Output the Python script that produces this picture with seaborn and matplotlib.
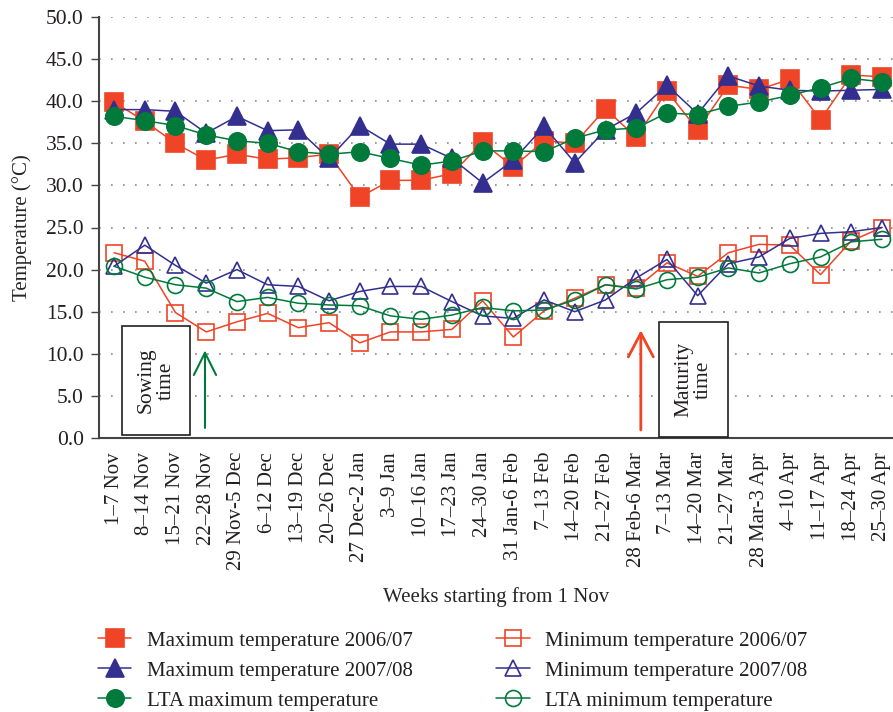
import matplotlib
matplotlib.use("Agg")
import matplotlib.pyplot as plt
from matplotlib.patches import Rectangle
import seaborn as sns
import numpy as np

weeks = ["1\u20137 Nov", "8\u201314 Nov", "15\u201321 Nov", "22\u201328 Nov", "29 Nov-5 Dec",
         "6\u201312 Dec", "13\u201319 Dec", "20\u201326 Dec", "27 Dec-2 Jan", "3\u20139 Jan",
         "10\u201316 Jan", "17\u201323 Jan", "24\u201330 Jan", "31 Jan-6 Feb", "7\u201313 Feb",
         "14\u201320 Feb", "21\u201327 Feb", "28 Feb-6 Mar", "7\u201313 Mar", "14\u201320 Mar",
         "21\u201327 Mar", "28 Mar-3 Apr", "4\u201310 Apr", "11\u201317 Apr", "18\u201324 Apr",
         "25\u201330 Apr"]

max_0607 = [39.9, 37.6, 35.0, 33.0, 33.7, 33.1, 33.3, 33.7, 28.6, 30.6, 30.6, 31.4, 35.1,
            32.2, 35.3, 35.0, 39.1, 35.7, 41.2, 36.6, 41.9, 41.4, 42.6, 37.8, 43.1, 42.9]
max_0708 = [39.0, 39.0, 38.8, 36.2, 38.2, 36.5, 36.6, 33.2, 37.1, 34.9, 34.9, 33.2, 30.3,
            33.0, 37.0, 32.7, 36.6, 38.6, 41.9, 38.5, 43.0, 41.8, 41.3, 41.2, 41.3, 41.4]
lta_max = [38.2, 37.7, 37.1, 36.0, 35.3, 35.0, 34.0, 33.7, 34.0, 33.2, 32.4, 32.9, 34.1,
           34.1, 34.0, 35.6, 36.6, 36.8, 38.6, 38.4, 39.4, 39.9, 40.7, 41.6, 42.7, 42.3]
min_0607 = [22.0, 21.0, 14.9, 12.6, 13.8, 14.8, 13.1, 13.7, 11.3, 12.6, 12.6, 12.9, 16.3,
            12.0, 15.1, 16.6, 18.2, 17.8, 20.8, 19.2, 22.0, 23.0, 22.9, 19.4, 23.4, 25.0]
min_0708 = [20.4, 22.9, 20.5, 18.4, 20.0, 18.2, 18.0, 16.3, 17.4, 18.0, 18.0, 16.2, 14.5,
            14.2, 16.4, 15.0, 16.4, 19.0, 21.2, 16.9, 20.7, 21.5, 23.7, 24.3, 24.5, 25.0]
lta_min = [20.4, 19.1, 18.2, 17.8, 16.2, 16.7, 16.0, 15.8, 15.7, 14.5, 14.1, 14.6, 15.5,
           15.1, 15.2, 16.4, 18.2, 17.7, 18.8, 19.1, 20.2, 19.6, 20.7, 21.5, 23.3, 23.6]

series_labels = ["Maximum temperature 2006/07", "Maximum temperature 2007/08",
                 "LTA maximum temperature", "Minimum temperature 2006/07",
                 "Minimum temperature 2007/08", "LTA minimum temperature"]

RED = "#EF4426"
BLUE = "#332F8F"
GREEN = "#007A3B"

sns.set_theme(style="white")
plt.rcParams["font.family"] = ["Liberation Serif", "DejaVu Serif"]
plt.rcParams["text.color"] = "#231F20"

fig = plt.figure(figsize=(8.93, 7.12), dpi=100)
ax = fig.add_axes([99 / 893, 1 - 438 / 712, 794 / 893, 421 / 712])

x = np.arange(len(weeks))

styles = [
    (max_0607, RED, "s", RED, 12.5),
    (max_0708, BLUE, "^", BLUE, 12.5),
    (lta_max, GREEN, "o", GREEN, 12.5),
    (min_0607, RED, "s", "none", 11),
    (min_0708, BLUE, "^", "none", 12),
    (lta_min, GREEN, "o", "none", 11.5),
]
handles = []
for (vals, col, mk, fc, ms), lab in zip(styles, series_labels):
    sns.lineplot(x=x, y=vals, ax=ax, color=col, marker=mk, markersize=ms,
                 markerfacecolor=fc, markeredgecolor=col, markeredgewidth=1.2,
                 linewidth=1.1, label=lab, legend=False, sort=False)
    handles.append(ax.lines[-1])

ax.set_xlim(-0.49, 25.36)
ax.set_ylim(0, 50)
ax.set_yticks(np.arange(0, 50.1, 5))
ax.set_yticklabels([f"{v:.1f}" for v in np.arange(0, 50.1, 5)], fontsize=15.5)
ax.set_xticks(x)
ax.set_xticklabels(weeks, rotation=90, fontsize=15)
ax.tick_params(axis="x", length=0, pad=10, colors="#231F20")
ax.tick_params(axis="y", length=6, width=1.0, pad=5, direction="out", left=True, colors="#231F20")
ax.tick_params(axis="y", color="#444444")

for yv in np.arange(5, 50.1, 5):
    ax.axhline(yv, color="#8a8a8a", linewidth=1.2, linestyle=(0, (1, 6.2)), zorder=0)

for s in ["top", "right"]:
    ax.spines[s].set_visible(False)
for s in ["left", "bottom"]:
    ax.spines[s].set_color("#444444")
    ax.spines[s].set_linewidth(1.5)

ax.set_ylabel("Temperature (\u00b0C)", fontsize=15, labelpad=10)
ax.set_xlabel("Weeks starting from 1 Nov", fontsize=15, labelpad=12)

# annotations: sowing and maturity boxes / arrows
sow_box = (0.26, 0.36, 2.21, 12.9)
mat_box = (17.74, 0.12, 2.25, 13.7)
for (bx, by, bw, bh), txt in [(sow_box, "Sowing\ntime"), (mat_box, "Maturity\ntime")]:
    ax.add_patch(Rectangle((bx, by), bw, bh, facecolor="white", edgecolor="#231F20",
                           linewidth=1.2, zorder=5))
    ax.text(bx + bw / 2, by + bh / 2, txt, rotation=90, ha="center", va="center",
            fontsize=15.5, linespacing=1.05, zorder=6)

ax.annotate("", xy=(2.96, 10.4), xytext=(2.96, 1.2),
            arrowprops=dict(arrowstyle="->, head_length=0.8, head_width=0.4",
                            color=GREEN, lw=1.5, mutation_scale=20, shrinkA=0, shrinkB=0))
ax.annotate("", xy=(17.15, 12.8), xytext=(17.15, 0.95),
            arrowprops=dict(arrowstyle="->, head_length=0.85, head_width=0.45",
                            color=RED, lw=2.0, mutation_scale=20, shrinkA=0, shrinkB=0))

fig.legend(handles=handles, labels=series_labels, loc="upper left",
           bbox_to_anchor=(98 / 893, 1 - 631 / 712), ncol=2, frameon=False,
           fontsize=15, handlelength=1.6, handletextpad=0.75, columnspacing=4.0,
           labelspacing=0.5, borderpad=0, borderaxespad=0)

fig.savefig("out.png", dpi=100)
